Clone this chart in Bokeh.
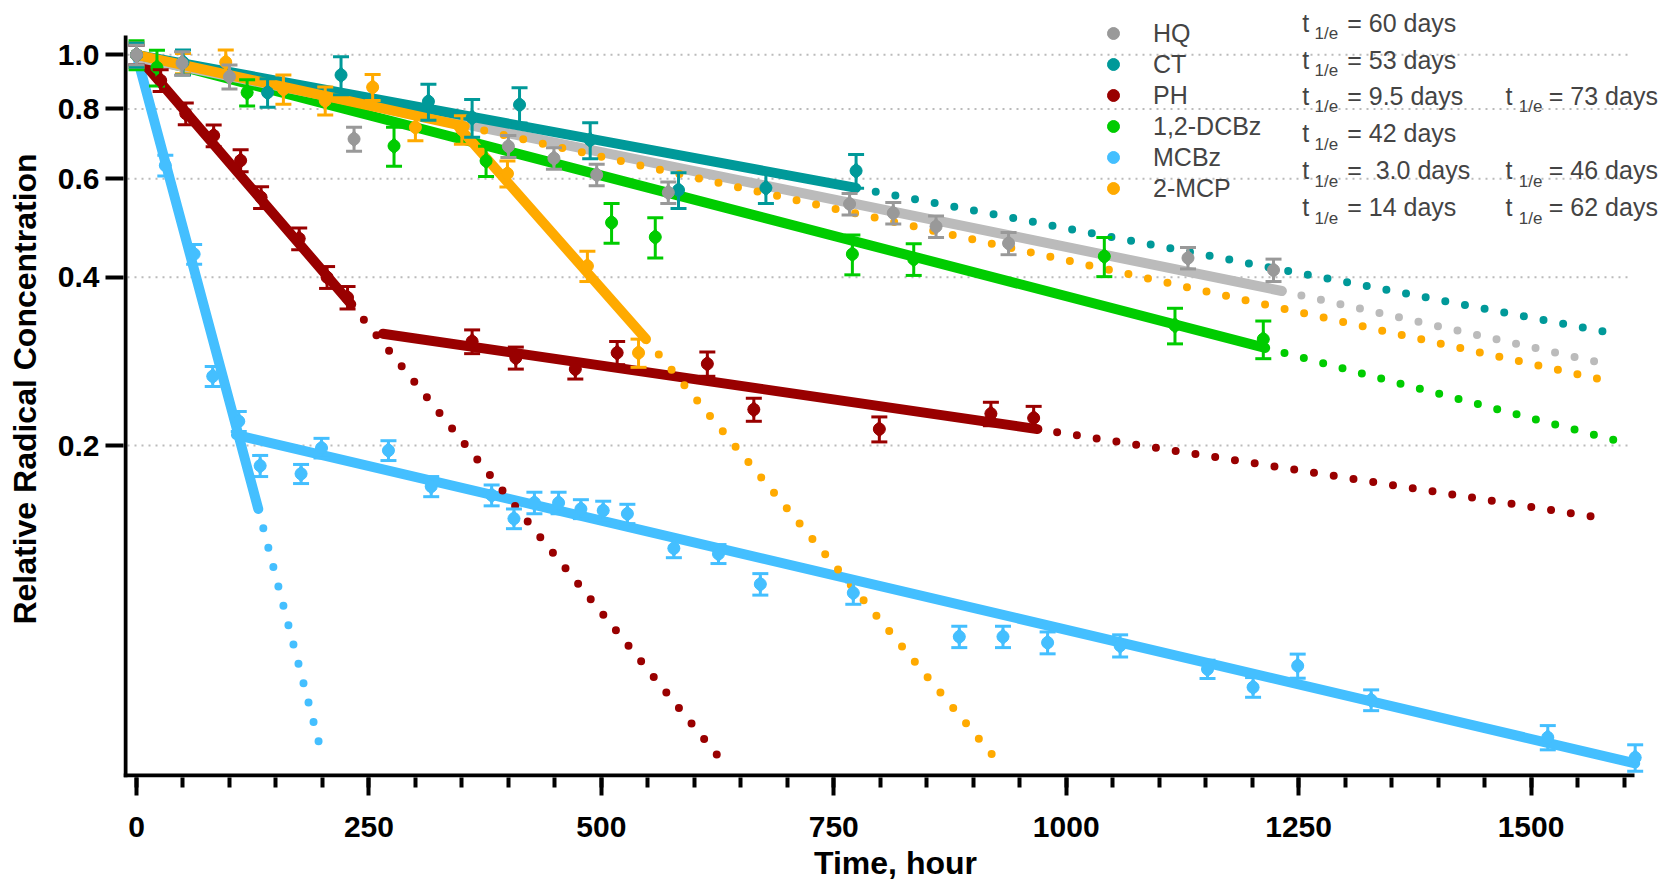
import math
from bokeh.plotting import figure
from bokeh.models import (Range1d, FixedTicker, SingleIntervalTicker,
                          PrintfTickFormatter, Label, Legend, LegendItem)
from bokeh.embed import file_html
from bokeh.resources import INLINE

# ---------------- data: time (hour), relative concentration, error ----------------
hq_t = [0, 49, 100, 234, 400, 449, 495, 572, 767, 814, 860, 938, 1131, 1223]
hq_v = [1.0, 0.966, 0.914, 0.707, 0.686, 0.653, 0.61, 0.567, 0.541, 0.521, 0.493, 0.46, 0.433, 0.412]
hq_e = [0.04, 0.047, 0.045, 0.035, 0.031, 0.029, 0.027, 0.025, 0.024, 0.023, 0.022, 0.021, 0.019, 0.019]

ct_t = [0, 50, 141, 220, 314, 361, 412, 488, 583, 677, 774]
ct_v = [1.0, 0.97, 0.856, 0.92, 0.825, 0.772, 0.814, 0.704, 0.573, 0.578, 0.62]
ct_e = [0.05, 0.05, 0.05, 0.072, 0.061, 0.06, 0.059, 0.052, 0.042, 0.036, 0.043]

ph_t = [0, 26, 53, 83, 112, 134, 175, 205, 227, 361, 408, 472, 517, 614, 664, 799, 919, 965]
ph_v = [1.0, 0.90, 0.785, 0.717, 0.647, 0.556, 0.469, 0.40, 0.368, 0.307, 0.287, 0.274,
        0.293, 0.28, 0.232, 0.214, 0.228, 0.224]
ph_e = [0.04, 0.04, 0.035, 0.032, 0.029, 0.025, 0.021, 0.018, 0.017, 0.015, 0.013, 0.011,
        0.014, 0.014, 0.011, 0.011, 0.011, 0.011]

dcbz_t = [0, 22, 119, 277, 376, 511, 558, 770, 836, 1041, 1117, 1212]
dcbz_v = [1.0, 0.949, 0.856, 0.687, 0.646, 0.501, 0.472, 0.44, 0.431, 0.436, 0.328, 0.31]
dcbz_e = [0.06, 0.07, 0.046, 0.055, 0.04, 0.041, 0.039, 0.036, 0.028, 0.035, 0.024, 0.024]

mcbz_t = [0, 31, 62, 82, 110, 133, 177, 199, 271, 317, 382, 406, 428, 454, 478, 502, 528,
          578, 626, 671, 771, 885, 932, 980, 1058, 1152, 1201, 1249, 1328, 1518, 1612]
mcbz_v = [1.0, 0.634, 0.44, 0.266, 0.221, 0.184, 0.178, 0.198, 0.196, 0.169, 0.163, 0.148,
          0.158, 0.158, 0.154, 0.153, 0.151, 0.131, 0.128, 0.113, 0.109, 0.091, 0.091,
          0.0888, 0.0877, 0.0796, 0.0739, 0.0807, 0.0701, 0.0601, 0.0553]
mcbz_e = [0.04, 0.027, 0.018, 0.011, 0.009, 0.008, 0.007, 0.008, 0.008, 0.007, 0.007, 0.006,
          0.007, 0.007, 0.006, 0.006, 0.006, 0.005, 0.005, 0.005, 0.005, 0.004, 0.004,
          0.004, 0.004, 0.003, 0.003, 0.004, 0.003, 0.003, 0.003]

mcp_t = [0, 50, 96, 158, 203, 254, 300, 350, 399, 485, 540]
mcp_v = [1.0, 0.965, 0.97, 0.868, 0.828, 0.875, 0.742, 0.735, 0.613, 0.419, 0.293]
mcp_e = [0.05, 0.04, 0.05, 0.052, 0.048, 0.047, 0.04, 0.043, 0.033, 0.026, 0.017]

# fitted lines (solid) and their extrapolations (dotted): end points
hq_fit_t, hq_fit_v = [0, 1232], [0.99, 0.378]
hq_ext_t, hq_ext_v = [1232, 1580], [0.378, 0.28]
ct_fit_t, ct_fit_v = [0, 774], [1.0, 0.578]
ct_ext_t, ct_ext_v = [774, 1590], [0.578, 0.317]
ph_fit1_t, ph_fit1_v = [0, 231], [1.0, 0.358]
ph_ext1_t, ph_ext1_v = [231, 635], [0.358, 0.0532]
ph_fit2_t, ph_fit2_v = [265, 969], [0.317, 0.214]
ph_ext2_t, ph_ext2_v = [969, 1580], [0.214, 0.148]
dcbz_fit_t, dcbz_fit_v = [0, 1214], [1.0, 0.299]
dcbz_ext_t, dcbz_ext_v = [1214, 1592], [0.299, 0.204]
mcbz_fit1_t, mcbz_fit1_v = [0, 131], [1.0, 0.154]
mcbz_ext1_t, mcbz_ext1_v = [131, 201], [0.154, 0.0548]
mcbz_fit2_t, mcbz_fit2_v = [107, 1612], [0.209, 0.054]
mcp_fit1_t, mcp_fit1_v = [0, 353], [1.0, 0.745]
mcp_ext1_t, mcp_ext1_v = [353, 1578], [0.745, 0.262]
mcp_fit2_t, mcp_fit2_v = [345, 548], [0.748, 0.31]
mcp_ext2_t, mcp_ext2_v = [548, 925], [0.31, 0.0548]

legend_names = ["HQ", "CT", "PH", "1,2-DCBz", "MCBz", "2-MCP"]
halflife_col1 = ["= 60 days", "= 53 days", "= 9.5 days", "= 42 days", "= \u00a03.0 days", "= 14 days"]
halflife_col2 = [(2, "= 73 days"), (4, "= 46 days"), (5, "= 62 days")]
y_ticks = [0.2, 0.4, 0.6, 0.8, 1.0]

# ---------------- layout helpers (page pixel -> data) ----------------
X0, PXH = 136.0, 0.9297      # page x of t=0, pixels per hour
Y1, PPD = 54.3, 559.0        # page y of 1.0, pixels per decade
W, H = 1667, 883
FL, FB = 123, 777            # frame left / bottom (page px); frame spans to top and right edges


def hx(px):
    return (px - X0) / PXH


def vy(py):
    return 10 ** (-(py - Y1) / PPD)


FONT = "Liberation Sans"

p = figure(width=W, height=H, y_axis_type="log",
           x_range=Range1d(hx(FL), hx(W)), y_range=Range1d(vy(FB), vy(0)),
           output_backend="svg", toolbar_location=None,
           min_border_left=FL, min_border_right=0, min_border_top=0, min_border_bottom=H - FB)
p.outline_line_color = None
p.background_fill_color = "white"
p.xgrid.visible = False
p.ygrid.visible = False

# axes (tick marks + labels from Bokeh; axis lines drawn below so they stop where the chart's do)
xa, ya = p.xaxis[0], p.yaxis[0]
xa.ticker = SingleIntervalTicker(interval=250, num_minor_ticks=5)
ya.ticker = FixedTicker(ticks=y_ticks, minor_ticks=[])
ya.formatter = PrintfTickFormatter(format="%.1f")
for ax in (xa, ya):
    ax.axis_line_color = None
    ax.major_tick_line_width = 4
    ax.minor_tick_line_width = 4
    ax.major_tick_in = 0
    ax.minor_tick_in = 0
    ax.major_label_text_font = FONT
    ax.major_label_text_font_style = "bold"
    ax.major_label_text_font_size = "30px"
    ax.major_label_text_color = "black"
    ax.axis_label_text_font = FONT
    ax.axis_label_text_font_style = "bold"
    ax.axis_label_text_font_size = "32px"
    ax.axis_label_text_color = "black"
xa.major_tick_out = 18
xa.minor_tick_out = 10
xa.major_label_standoff = 21
xa.axis_label = "Time, hour"
xa.axis_label_standoff = 5
ya.major_tick_out = 18
ya.minor_tick_out = 0
ya.major_label_standoff = 6
ya.axis_label = "Relative Radical Concentration"
ya.axis_label_standoff = 12

# dotted horizontal grid
for yt in y_ticks:
    p.segment(x0=hx(127), y0=yt, x1=hx(1632), y1=yt, line_color="#BBBBBB",
              line_width=2, line_dash="2 5")

# axis lines
p.segment(x0=hx(125), y0=vy(35), x1=hx(125), y1=vy(FB), line_color="black", line_width=4)
p.segment(x0=hx(FL), y0=vy(775), x1=hx(1634), y1=vy(775), line_color="black", line_width=4)

# colours
C_HQ_M, C_HQ_L = "#999999", "#BBBBBB"
C_CT = "#009999"
C_PH = "#990000"
C_DC = "#00CC00"
C_MC = "#44BFFF"
C_MP = "#FFAA00"

LW = 10


def solid(t, v, c):
    p.line(t, v, line_color=c, line_width=LW, line_cap="round")


def dotted(t, v, c):
    p.line(t, v, line_color=c, line_width=8, line_dash="0 20", line_cap="round")


def points(t, v, e, c):
    lo = [a - b for a, b in zip(v, e)]
    hi = [a + b for a, b in zip(v, e)]
    p.segment(t, lo, t, hi, line_color=c, line_width=3)
    p.scatter(t, hi, marker="dash", size=16, line_color=c, line_width=3)
    p.scatter(t, lo, marker="dash", size=16, line_color=c, line_width=3)
    p.scatter(t, v, marker="diamond", size=17, fill_color=c, line_color=c)
    return p.scatter(t, v, marker="circle", size=12, fill_color=c, line_color=c)


# solid fits
solid(mcbz_fit2_t, mcbz_fit2_v, C_MC)
solid(mcbz_fit1_t, mcbz_fit1_v, C_MC)
solid(dcbz_fit_t, dcbz_fit_v, C_DC)
solid(ph_fit1_t, ph_fit1_v, C_PH)
solid(ph_fit2_t, ph_fit2_v, C_PH)
solid(hq_fit_t, hq_fit_v, C_HQ_L)
solid(ct_fit_t, ct_fit_v, C_CT)
solid(mcp_fit2_t, mcp_fit2_v, C_MP)
solid(mcp_fit1_t, mcp_fit1_v, C_MP)

# dotted extrapolations
dotted(mcbz_ext1_t, mcbz_ext1_v, C_MC)
dotted(dcbz_ext_t, dcbz_ext_v, C_DC)
dotted(ph_ext1_t, ph_ext1_v, C_PH)
dotted(ph_ext2_t, ph_ext2_v, C_PH)
dotted(hq_ext_t, hq_ext_v, C_HQ_L)
dotted(mcp_ext1_t, mcp_ext1_v, C_MP)
dotted(mcp_ext2_t, mcp_ext2_v, C_MP)
dotted(ct_ext_t, ct_ext_v, C_CT)

# data points with error bars
r_mc = points(mcbz_t, mcbz_v, mcbz_e, C_MC)
r_dc = points(dcbz_t, dcbz_v, dcbz_e, C_DC)
r_ph = points(ph_t, ph_v, ph_e, C_PH)
r_mp = points(mcp_t, mcp_v, mcp_e, C_MP)
r_ct = points(ct_t, ct_v, ct_e, C_CT)
r_hq = points(hq_t, hq_v, hq_e, C_HQ_M)

renderers = [r_hq, r_ct, r_ph, r_dc, r_mc, r_mp]
legend = Legend(items=[LegendItem(label=n, renderers=[r]) for n, r in zip(legend_names, renderers)],
                location=(1098 - FL, FB - 203), glyph_width=30, glyph_height=30, spacing=1,
                padding=0, margin=0, label_standoff=25,
                label_text_font=FONT, label_text_font_size="25px",
                background_fill_alpha=0, border_line_alpha=0)
p.add_layout(legend)

# half-life annotations
row_y = [22.0, 59.0, 95.0, 132.5, 169.5, 206.7]


def halflife(xt, xs, xe, py, txt):
    p.add_layout(Label(x=hx(xt), y=vy(py), text="t", text_font=FONT, text_font_size="25px",
                       text_baseline="middle", text_align="left"))
    p.add_layout(Label(x=hx(xs), y=vy(py + 11), text="1/e", text_font=FONT, text_font_size="17px",
                       text_baseline="middle", text_align="left"))
    p.add_layout(Label(x=hx(xe), y=vy(py), text=txt, text_font=FONT, text_font_size="25px",
                       text_baseline="middle", text_align="left"))


for i, txt in enumerate(halflife_col1):
    halflife(1301.7, 1314, 1346.7, row_y[i], txt)
for i, txt in halflife_col2:
    halflife(1505, 1518.3, 1548.3, row_y[i], txt)

open("out.html", "w").write(file_html(p, INLINE))
